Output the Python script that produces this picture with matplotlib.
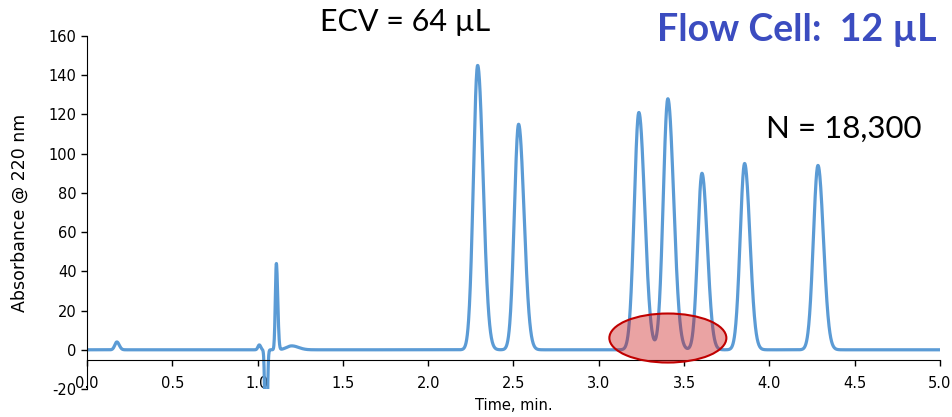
import numpy as np
import matplotlib.pyplot as plt
from matplotlib.patches import Ellipse

plt.rcParams["axes.unicode_minus"] = False

# peaks: retention time (min), height (mAU), left/right sigma (min)
peak_time = [0.175, 1.01, 1.05, 1.11, 1.20, 2.29, 2.53, 3.235, 3.405, 3.605, 3.855, 4.285]
peak_height = [4, 2.5, -70, 44, 2, 145, 115, 121, 128, 90, 95, 94]
sigma_left = [0.012, 0.008, 0.006, 0.006, 0.03, 0.025, 0.025, 0.027, 0.027, 0.025, 0.026, 0.027]
sigma_right = [0.014, 0.008, 0.006, 0.008, 0.04, 0.032, 0.032, 0.034, 0.034, 0.031, 0.031, 0.032]

x_ticks = [0.0, 0.5, 1.0, 1.5, 2.0, 2.5, 3.0, 3.5, 4.0, 4.5, 5.0]
y_ticks = [-20, 0, 20, 40, 60, 80, 100, 120, 140, 160]

t = np.linspace(0, 5, 4000)
signal = np.zeros_like(t)
for t0, h, sl, sr in zip(peak_time, peak_height, sigma_left, sigma_right):
    s = np.where(t < t0, sl, sr)
    signal += h * np.exp(-0.5 * ((t - t0) / s) ** 2)

fig = plt.figure(figsize=(9.53, 4.17), dpi=100)
ax = fig.add_axes([0.0913, 0.0671, 0.895, 0.8466])

ax.plot(t, signal, color="#5B9BD5", lw=2.3)
ax.add_patch(Ellipse((3.405, 6), 0.686, 25, facecolor=(0.8, 0.1, 0.1, 0.4),
                     edgecolor="#C00000", lw=1.5, zorder=3))

ax.set_xlim(0, 5)
ax.set_ylim(-20, 160)
ax.set_xticks(x_ticks)
ax.set_xticklabels([f"{v:.1f}" for v in x_ticks])
ax.set_yticks(y_ticks)
ax.tick_params(labelsize=10.5, length=4, width=1)
ax.tick_params(axis="x", pad=8)

for side in ["top", "right"]:
    ax.spines[side].set_visible(False)
ax.spines["bottom"].set_position(("data", -5))

ax.set_xlabel("Time, min.", fontsize=10.5, labelpad=5)
ax.set_ylabel("Absorbance @ 220 nm", fontsize=12.5, labelpad=14)

fig.text(0.425, 0.947, "ECV = 64 µL", fontsize=22, ha="center", va="center", family="Lato")
fig.text(0.836, 0.928, "Flow Cell:  12 µL", fontsize=27, ha="center", va="center",
         fontweight="bold", color="#3B4CC0", family="Lato")
fig.text(0.885, 0.69, "N = 18,300", fontsize=22.5, ha="center", va="center", family="Lato")

fig.savefig("out.png", dpi=100)
